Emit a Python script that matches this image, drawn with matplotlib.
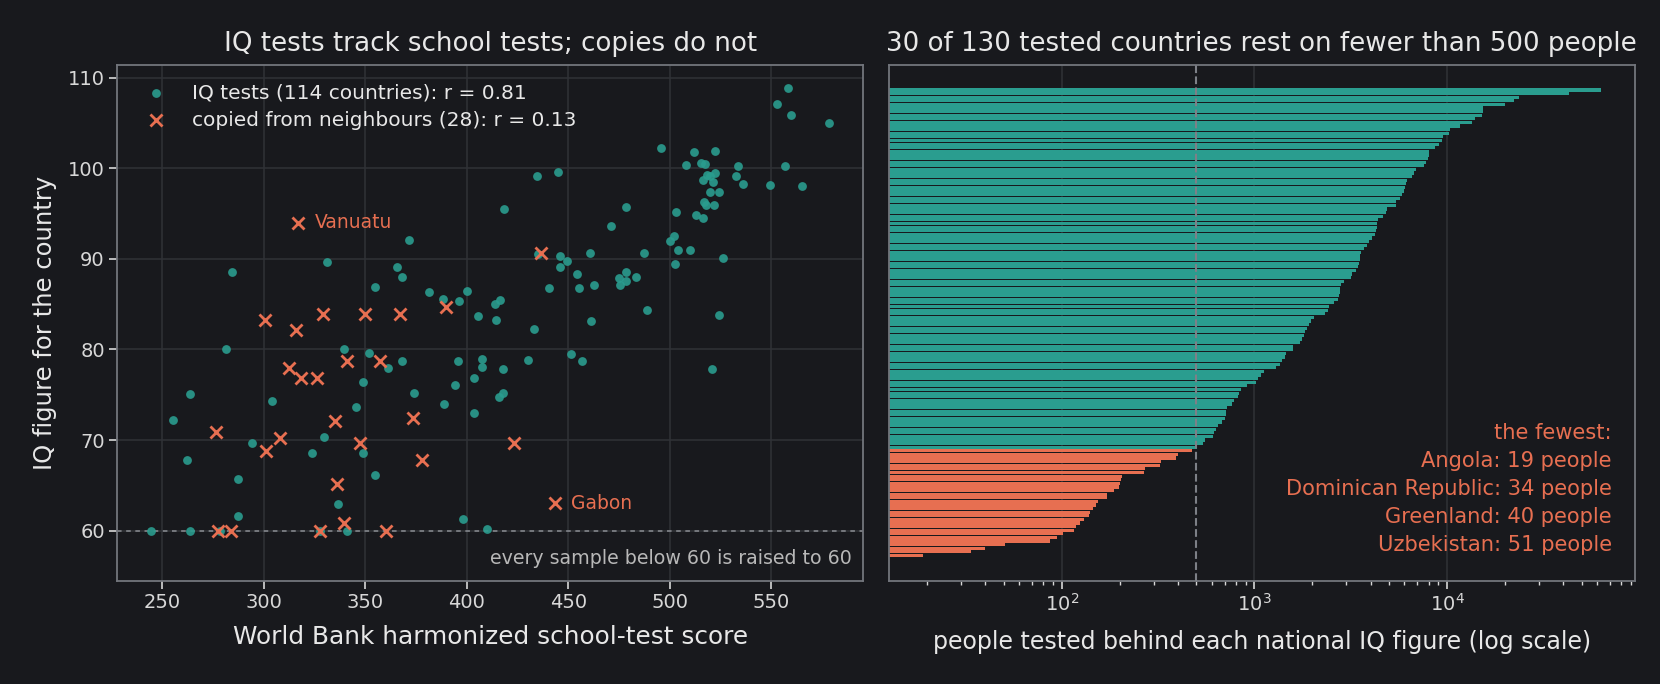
import matplotlib.pyplot as plt
import numpy as np

# left panel: countries with real IQ samples (school-test score, IQ figure)
tested_score = [284.6, 331.4, 371.8, 355.0, 365.8, 368.2, 381.5, 388.1, 396.3, 400.2,
                281.2, 263.5, 255.1, 303.9, 294.0, 262.0, 287.1, 287.1, 244.6, 263.5,
                278.6, 339.8, 352.1, 361.0, 367.9, 348.7, 345.7, 329.5, 324.0, 348.7,
                354.6, 336.4, 327.8, 340.8, 374.3, 388.6, 395.5, 394.5, 403.8, 403.8,
                398.4, 405.5, 407.8, 407.8, 414.7, 433.4, 461.5, 524.5, 418.1, 430.4,
                451.6, 457.0, 521.1, 418.1, 415.7, 409.8, 558.5, 553.1, 560.0, 578.6,
                496.0, 512.2, 522.6, 508.3, 515.7, 517.6, 533.9, 557.0, 518.5, 520.1,
                522.3, 532.9, 516.6, 521.6, 536.4, 549.7, 565.4, 520.1, 524.5, 517.1,
                518.1, 521.7, 503.3, 513.2, 516.6, 434.9, 445.2, 418.6, 478.7, 471.3,
                502.4, 500.4, 504.3, 510.2, 487.4, 461.0, 502.9, 526.5, 445.8, 435.0,
                449.2, 446.2, 454.6, 440.8, 455.5, 462.9, 478.7, 475.2, 478.7, 483.2,
                475.7, 416.2, 414.2, 489.1]
tested_iq = [88.5, 89.7, 92.1, 86.9, 89.1, 88.0, 86.3, 85.6, 85.3, 86.5,
             80.0, 75.1, 72.2, 74.3, 69.7, 67.8, 65.7, 61.6, 60.0, 60.0,
             60.0, 80.0, 79.6, 77.9, 78.7, 76.4, 73.7, 70.3, 68.6, 68.6,
             66.1, 62.9, 60.0, 60.0, 75.2, 74.0, 78.7, 76.1, 76.8, 73.0,
             61.3, 83.7, 79.0, 78.1, 83.3, 82.3, 83.1, 83.8, 77.8, 78.8,
             79.5, 78.7, 77.8, 75.2, 74.7, 60.2, 108.9, 107.1, 105.9, 105.0,
             102.2, 101.8, 101.95, 100.4, 100.6, 100.5, 100.3, 100.2, 99.3, 99.2,
             99.5, 99.2, 98.75, 98.5, 98.3, 98.2, 98.0, 97.4, 97.4, 96.3,
             96.0, 95.9, 95.2, 94.8, 94.5, 99.2, 99.6, 95.45, 95.7, 93.6,
             92.5, 92.0, 91.0, 91.0, 90.6, 90.6, 89.4, 90.05, 90.3, 90.5,
             89.8, 89.05, 88.3, 86.75, 86.75, 87.1, 88.5, 87.85, 87.6, 87.95,
             87.1, 85.5, 85.0, 84.4]

# countries whose figure was copied from neighbours
copied_name = ['Vanuatu', '', '', '', '', '', '', '', '', '', '', '', '', '',
               '', '', '', '', '', '', '', '', '', '', '', '', '', 'Gabon']
copied_score = [317.0, 389.7, 300.4, 315.7, 329.0, 349.7, 367.2, 312.3, 318.5, 326.4,
                341.1, 357.4, 276.3, 308.1, 301.2, 334.9, 347.5, 373.6, 378.1, 336.2,
                339.8, 277.7, 284.0, 327.8, 360.3, 436.7, 423.1, 443.3]
copied_iq = [94.0, 84.7, 83.2, 82.1, 83.9, 83.9, 83.9, 77.9, 76.9, 76.9,
             78.7, 78.7, 70.9, 70.2, 68.8, 72.1, 69.7, 72.4, 67.8, 65.1,
             60.9, 60.0, 60.0, 60.0, 60.0, 90.7, 69.7, 63.0]

# right panel: people tested behind each national figure, largest first
sample_size = [62800, 42900, 23600, 22200, 19980, 15340, 15300, 15200, 13960, 13480,
               11640, 10350, 10230, 9480, 9450, 9040, 8630, 8040, 8020, 7950,
               7760, 7580, 6860, 6700, 6550, 6170, 6100, 6030, 5960, 5820,
               5690, 5425, 5400, 4853, 4830, 4630, 4365, 4313, 4300, 4264,
               4214, 4070, 3951, 3837, 3704, 3575, 3533, 3512, 3500, 3431,
               3352, 3198, 3160, 2911, 2811, 2778, 2770, 2760, 2714, 2588,
               2427, 2399, 2316, 2035, 1976, 1908, 1863, 1830, 1809, 1767,
               1727, 1590, 1581, 1465, 1447, 1389, 1357, 1287, 1125, 1085,
               1042, 1018, 910, 853, 834, 824, 786, 763, 724, 715,
               711, 707, 675, 644, 629, 614, 610, 553, 540, 505,
               477, 402, 391, 326, 322, 270, 267, 205, 202, 200,
               199, 186, 172, 171, 155, 150, 145, 141, 139, 130,
               125, 118, 116, 102, 94, 87, 51, 40, 34, 19]
fewest_names = ['Angola', 'Dominican Republic', 'Greenland', 'Uzbekistan']
fewest_sizes = [19, 34, 40, 51]
threshold = 500
floor_iq = 60

BG = '#18191d'
TEAL = '#2a9d8f'
ORANGE = '#e76f51'
TXT = '#e8e8e8'
SPINE = '#72757c'
GRID = '#303237'

plt.rcParams.update({
    'font.family': 'DejaVu Sans',
    'figure.facecolor': BG,
    'axes.facecolor': BG,
    'axes.edgecolor': SPINE,
    'axes.linewidth': 1.3,
    'text.color': TXT,
    'axes.labelcolor': TXT,
    'xtick.color': '#d8d8d8',
    'ytick.color': '#d8d8d8',
    'xtick.labelcolor': '#d8d8d8',
    'ytick.labelcolor': '#d8d8d8',
    'xtick.major.size': 5.5,
    'ytick.major.size': 5.5,
    'xtick.major.width': 1.2,
    'ytick.major.width': 1.2,
    'xtick.labelsize': 14,
    'ytick.labelsize': 14,
})

fig = plt.figure(figsize=(16.6, 6.84), dpi=100)
ax1 = fig.add_axes([0.0707, 0.1513, 0.4492, 0.7537])
ax2 = fig.add_axes([0.5354, 0.1513, 0.4495, 0.7537])

# --- left: scatter
ax1.grid(True, color=GRID, lw=1.1)
ax1.set_axisbelow(True)
ax1.axhline(floor_iq, color='#8a8d93', lw=1.1, ls=(0, (3, 3)), zorder=1)
ax1.scatter(tested_score, tested_iq, s=40, color=TEAL, alpha=0.9, lw=0,
            label='IQ tests (114 countries): r = 0.81', zorder=3)
ax1.scatter(copied_score, copied_iq, s=75, marker='x', color=ORANGE, lw=2,
            label='copied from neighbours (28): r = 0.13', zorder=4)
for name, sx, sy in zip(copied_name, copied_score, copied_iq):
    if name:
        ax1.annotate(name, (sx, sy), xytext=(12, 0), textcoords='offset points',
                     va='center', ha='left', color=ORANGE, fontsize=13.5)
ax1.text(0.985, 0.025, 'every sample below 60 is raised to 60', transform=ax1.transAxes,
         ha='right', va='bottom', color='#b8b8b8', fontsize=13.7)
ax1.set_ylim(54.5, 111.4)
ax1.set_xticks([250, 300, 350, 400, 450, 500, 550])
ax1.set_yticks([60, 70, 80, 90, 100, 110])
ax1.set_xlabel('World Bank harmonized school-test score', fontsize=17.8, labelpad=9)
ax1.set_ylabel('IQ figure for the country', fontsize=17.5, labelpad=8)
ax1.set_title('IQ tests track school tests; copies do not', fontsize=18.8, pad=10, color=TXT)
leg = ax1.legend(loc='upper left', frameon=False, fontsize=14.5, labelspacing=0.42,
                 handletextpad=0.8)
for t in leg.get_texts():
    t.set_color(TXT)

# --- right: bars on log scale
pos = np.arange(len(sample_size))
cols = [TEAL if n >= threshold else ORANGE for n in sample_size]
ax2.barh(pos, sample_size, height=0.88, color=cols, zorder=2)
ax2.set_xscale('log')
ax2.invert_yaxis()
ax2.grid(True, axis='x', which='major', color=GRID, lw=1.1)
ax2.set_axisbelow(True)
ax2.axvline(threshold, color='#7d8087', lw=1.5, ls='--', zorder=3)
ax2.set_yticks([])
ax2.tick_params(axis='x', which='minor', length=3, width=1, color='#d8d8d8')
ax2.set_xlabel('people tested behind each national IQ figure (log scale)', fontsize=17.0,
               labelpad=11)
n_small = sum(1 for n in sample_size if n < threshold)
ax2.set_title(f'{n_small} of {len(sample_size)} tested countries rest on fewer than '
              f'{threshold} people', fontsize=18.8, pad=10, color=TXT)
lines = ['the fewest:'] + [f'{nm}: {v} people' for nm, v in zip(fewest_names, fewest_sizes)]
ax2.text(0.969, 0.05, '\n'.join(lines), transform=ax2.transAxes, ha='right', va='bottom',
         color=ORANGE, fontsize=15.1, linespacing=1.5, multialignment='right')

fig.savefig('out.png', dpi=100, facecolor=BG)
